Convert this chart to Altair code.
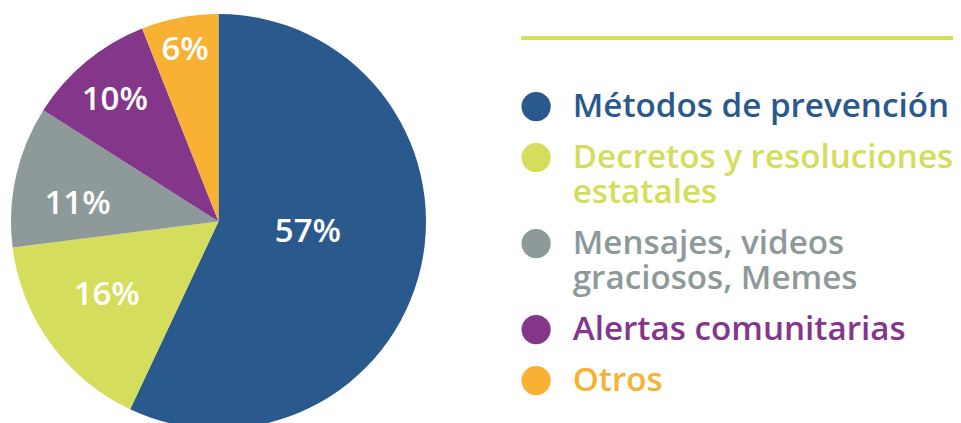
import altair as alt
import pandas as pd

categories = [
    "Métodos de prevención",
    "Decretos y resoluciones\nestatales",
    "Mensajes, videos\ngraciosos, Memes",
    "Alertas comunitarias",
    "Otros",
]
values = [57, 16, 11, 10, 6]
labels = ["57%", "16%", "11%", "10%", "6%"]
colors = ["#2A598E", "#D4DD5C", "#8E9A99", "#84378A", "#F8B133"]
# label placement (layout): distance from centre in px, angular shift in degrees
label_radius = [90, 134, 142, 160, 175]
label_shift = [-6, 2.5, -5.6, -0.8, -0.2]

df = pd.DataFrame({
    "cat": categories,
    "val": values,
    "lab": labels,
    "ord": list(range(len(categories))),
    "lr": label_radius,
    "ls": label_shift,
})

CX, CY, R = 210.5, 213.5, 207.5
FONT = "Open Sans"

color_scale = alt.Scale(domain=categories, range=colors)

pie = alt.Chart(df).mark_arc(radius=R, x=CX, y=CY).encode(
    theta=alt.Theta("val:Q", stack=True),
    order=alt.Order("ord:Q", sort="ascending"),
    color=alt.Color(
        "cat:N",
        scale=color_scale,
        sort=categories,
        legend=alt.Legend(
            title=None,
            orient="none",
            legendX=511.5,
            legendY=82,
            padding=0,
            symbolType="circle",
            symbolSize=855,
            symbolStrokeWidth=0,
            symbolOpacity=1,
            labelFont=FONT,
            labelFontSize=33.2,
            labelFontWeight=600,
            labelLimit=600,
            labelOffset=20,
            rowPadding=17,
            labelExpr="split(datum.label, '\\n')",
            labelColor=alt.ExprRef("scale('color', datum.value)"),
        ),
    ),
)

text = alt.Chart(df).transform_window(
    cum="sum(val)", sort=[alt.SortField("ord", order="ascending")]
).transform_joinaggregate(
    tot="sum(val)"
).transform_calculate(
    mid="(datum.cum - datum.val / 2) / datum.tot + datum.ls / 360"
).mark_text(
    x=CX, y=CY, font=FONT, fontSize=33, fontWeight=600, color="white",
    align="center", baseline="middle",
).encode(
    theta=alt.Theta("mid:Q", scale=alt.Scale(domain=[0, 1]), stack=None),
    radius=alt.Radius("lr:Q", scale=None),
    text="lab:N",
)

rule = alt.Chart(pd.DataFrame({"a": [0]})).mark_rule(
    color="#D4DD5C", strokeWidth=4
).encode(x=alt.value(513), x2=alt.value(945), y=alt.value(30))

chart = alt.layer(pie, text, rule).properties(
    width=945, height=415,
    autosize=alt.AutoSizeParams(type="none"),
    padding=0,
).resolve_scale(theta="independent").configure_view(stroke=None)

chart.save("out.html", embed_options={"renderer": "svg", "actions": False})
